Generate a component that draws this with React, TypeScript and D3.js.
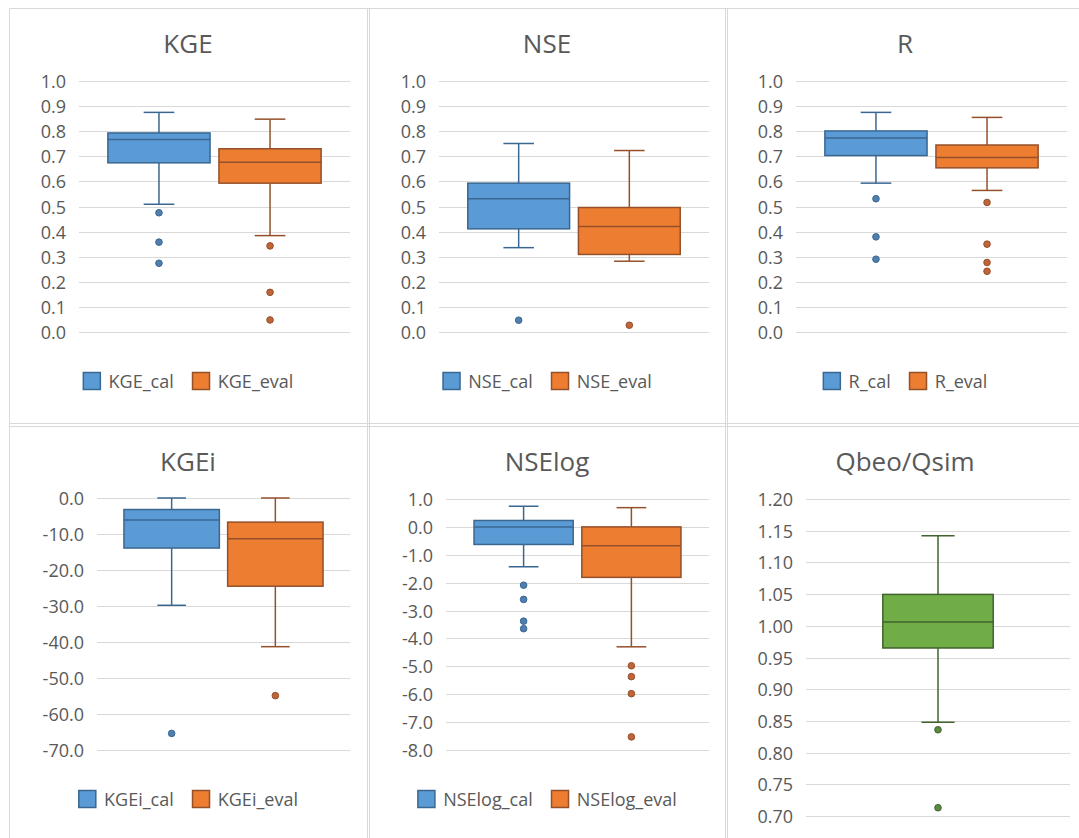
import React, { useEffect, useRef } from 'react'
import * as d3 from 'd3'

// box stats: [lower whisker, q1, median, q3, upper whisker]
const titles = ['KGE', 'NSE', 'R', 'KGEi', 'NSElog', 'Qbeo/Qsim']

const kgeCal = [0.509, 0.674, 0.767, 0.793, 0.875]
const kgeCalOut = [0.475, 0.358, 0.274]
const kgeEval = [0.384, 0.593, 0.676, 0.73, 0.848]
const kgeEvalOut = [0.343, 0.158, 0.048]

const nseCal = [0.336, 0.411, 0.531, 0.593, 0.751]
const nseCalOut = [0.047]
const nseEval = [0.282, 0.309, 0.42, 0.496, 0.723]
const nseEvalOut = [0.027]

const rCal = [0.593, 0.703, 0.773, 0.801, 0.875]
const rCalOut = [0.531, 0.379, 0.29]
const rEval = [0.564, 0.654, 0.695, 0.745, 0.855]
const rEvalOut = [0.516, 0.35, 0.277, 0.242]

const kgeiCal = [-29.8, -13.9, -6.1, -3.2, 0.0]
const kgeiCalOut = [-65.4]
const kgeiEval = [-41.3, -24.5, -11.3, -6.7, 0.0]
const kgeiEvalOut = [-54.9]

const nselogCal = [-1.43, -0.63, 0.0, 0.23, 0.74]
const nselogCalOut = [-2.09, -2.6, -3.38, -3.65]
const nselogEval = [-4.3, -1.81, -0.68, 0.0, 0.69]
const nselogEvalOut = [-4.98, -5.37, -5.98, -7.53]

const qratio = [0.848, 0.965, 1.006, 1.0495, 1.142]
const qratioOut = [0.836, 0.713]

const unitTicks = [0, 0.1, 0.2, 0.3, 0.4, 0.5, 0.6, 0.7, 0.8, 0.9, 1.0]
const kgeiTicks = [-70, -60, -50, -40, -30, -20, -10, 0]
const nselogTicks = [-8, -7, -6, -5, -4, -3, -2, -1, 0, 1]
const qTicks = [0.7, 0.75, 0.8, 0.85, 0.9, 0.95, 1.0, 1.05, 1.1, 1.15, 1.2]

const BLUE = { fill: '#5B9BD5', line: '#3A6791', dot: '#4f7fae' }
const ORANGE = { fill: '#ED7D31', line: '#95502A', dot: '#c0643a' }
const GREEN = { fill: '#70AD47', line: '#41632C', dot: '#5b8a45' }

const loc = d3.formatLocale({ decimal: '.', thousands: ',', grouping: [3], currency: ['', ''], minus: '-' })

const panels = [
  { title: titles[0], cx: 188, top: 81, bottom: 332, left: 79, right: 350, ticks: unitTicks, fmt: '.1f', titleY: 43, legendY: 381,
    series: [{ name: 'KGE_cal', stats: kgeCal, out: kgeCalOut, c: BLUE }, { name: 'KGE_eval', stats: kgeEval, out: kgeEvalOut, c: ORANGE }] },
  { title: titles[1], cx: 547, top: 81, bottom: 332, left: 439, right: 709, ticks: unitTicks, fmt: '.1f', titleY: 43, legendY: 381,
    series: [{ name: 'NSE_cal', stats: nseCal, out: nseCalOut, c: BLUE }, { name: 'NSE_eval', stats: nseEval, out: nseEvalOut, c: ORANGE }] },
  { title: titles[2], cx: 905, top: 81, bottom: 332, left: 796, right: 1067, ticks: unitTicks, fmt: '.1f', titleY: 43, legendY: 381,
    series: [{ name: 'R_cal', stats: rCal, out: rCalOut, c: BLUE }, { name: 'R_eval', stats: rEval, out: rEvalOut, c: ORANGE }] },
  { title: titles[3], cx: 188, top: 498, bottom: 750, left: 97, right: 350, ticks: kgeiTicks, fmt: '.1f', titleY: 461, legendY: 799,
    series: [{ name: 'KGEi_cal', stats: kgeiCal, out: kgeiCalOut, c: BLUE }, { name: 'KGEi_eval', stats: kgeiEval, out: kgeiEvalOut, c: ORANGE }] },
  { title: titles[4], cx: 547, top: 499, bottom: 750, left: 446, right: 709, ticks: nselogTicks, fmt: '.1f', titleY: 461, legendY: 799,
    series: [{ name: 'NSElog_cal', stats: nselogCal, out: nselogCalOut, c: BLUE }, { name: 'NSElog_eval', stats: nselogEval, out: nselogEvalOut, c: ORANGE }] },
  { title: titles[5], cx: 905, top: 499, bottom: 816, left: 806, right: 1070, ticks: qTicks, fmt: '.2f', titleY: 461, legendY: null,
    series: [{ name: 'Qbeo/Qsim', stats: qratio, out: qratioOut, c: GREEN }] },
]

const FONT = '"Open Sans", "Noto Sans", sans-serif'

export default function App() {
  const ref = useRef<SVGSVGElement>(null)

  useEffect(() => {
    const svg = d3.select(ref.current)
    svg.selectAll('*').remove()

    // panel borders
    const borders = svg.append('g').attr('stroke', '#d9d9d9').attr('fill', 'none')
    borders.append('path').attr('d', 'M9.5,838V8.5H1079')
    borders.append('line').attr('x1', 9.5).attr('x2', 1079).attr('y1', 423.5).attr('y2', 423.5)
    borders.append('line').attr('x1', 9.5).attr('x2', 1079).attr('y1', 426.5).attr('y2', 426.5)
    borders.append('line').attr('x1', 367.5).attr('x2', 367.5).attr('y1', 8).attr('y2', 838)
    borders.append('line').attr('x1', 369.5).attr('x2', 369.5).attr('y1', 8).attr('y2', 838)
    borders.append('line').attr('x1', 725.5).attr('x2', 725.5).attr('y1', 8).attr('y2', 838)
    borders.append('line').attr('x1', 727.5).attr('x2', 727.5).attr('y1', 8).attr('y2', 838)

    panels.forEach((p) => {
      const g = svg.append('g')
      const y = d3.scaleLinear()
        .domain([p.ticks[0], p.ticks[p.ticks.length - 1]])
        .range([p.bottom, p.top])
      const single = p.series.length === 1
      const x = d3.scaleBand()
        .domain(p.series.map((s) => s.name))
        .range([p.left, p.right])
        .paddingInner(0.08)
        .paddingOuter(single ? 0.64 : 0.26)
      const fmt = loc.format(p.fmt)

      g.append('text')
        .attr('x', p.cx).attr('y', p.titleY)
        .attr('text-anchor', 'middle').attr('dominant-baseline', 'central')
        .attr('font-family', FONT).attr('font-size', 26).attr('fill', '#595959')
        .text(p.title)

      // gridlines
      g.append('g').selectAll('line').data(p.ticks).enter().append('line')
        .attr('x1', p.left).attr('x2', p.right)
        .attr('y1', (d) => Math.round(y(d)) + 0.5).attr('y2', (d) => Math.round(y(d)) + 0.5)
        .attr('stroke', '#d9d9d9').attr('stroke-width', 1)

      g.append('g').selectAll('text').data(p.ticks).enter().append('text')
        .attr('x', p.left - 13).attr('y', (d) => y(d))
        .attr('text-anchor', 'end').attr('dominant-baseline', 'central')
        .attr('font-family', FONT).attr('font-size', 18).attr('fill', '#595959')
        .text((d) => fmt(d))

      p.series.forEach((s) => {
        const x0 = x(s.name) as number
        const bw = x.bandwidth()
        const mid = x0 + bw / 2
        const cap = bw * 0.15
        const [lo, q1, med, q3, hi] = s.stats
        const sg = g.append('g').attr('stroke', s.c.line).attr('stroke-width', 1.5)
        sg.append('line').attr('x1', mid).attr('x2', mid).attr('y1', y(hi)).attr('y2', y(q3))
        sg.append('line').attr('x1', mid).attr('x2', mid).attr('y1', y(q1)).attr('y2', y(lo))
        sg.append('line').attr('x1', mid - cap).attr('x2', mid + cap).attr('y1', y(hi)).attr('y2', y(hi))
        sg.append('line').attr('x1', mid - cap).attr('x2', mid + cap).attr('y1', y(lo)).attr('y2', y(lo))
        sg.append('rect').attr('x', x0).attr('width', bw)
          .attr('y', y(q3)).attr('height', y(q1) - y(q3))
          .attr('fill', s.c.fill)
        sg.append('line').attr('x1', x0).attr('x2', x0 + bw).attr('y1', y(med)).attr('y2', y(med))
        g.append('g').selectAll('circle').data(s.out).enter().append('circle')
          .attr('cx', mid).attr('cy', (d) => y(d)).attr('r', 3.3)
          .attr('fill', s.c.dot).attr('stroke', s.c.line).attr('stroke-width', 1)
      })

      if (p.legendY !== null) {
        const lg = g.append('g')
        let cursor = 0
        p.series.forEach((s, i) => {
          const item = lg.append('g').attr('transform', `translate(${cursor},0)`)
          item.append('rect').attr('x', 0.75).attr('y', -8.5).attr('width', 17).attr('height', 17)
            .attr('fill', s.c.fill).attr('stroke', s.c.line).attr('stroke-width', 1.5)
          const t = item.append('text').attr('x', 26).attr('y', 0)
            .attr('dominant-baseline', 'central')
            .attr('font-family', FONT).attr('font-size', 18).attr('fill', '#595959')
            .text(s.name)
          const w = (t.node() as SVGTextElement).getComputedTextLength()
          cursor += 26 + w + (i < p.series.length - 1 ? 18 : 0)
        })
        lg.attr('transform', `translate(${p.cx - cursor / 2},${p.legendY})`)
      }
    })
  }, [])

  return (
    <svg ref={ref} width={1079} height={838}
      style={{ position: 'absolute', left: 0, top: 0, background: '#fff' }} />
  )
}
